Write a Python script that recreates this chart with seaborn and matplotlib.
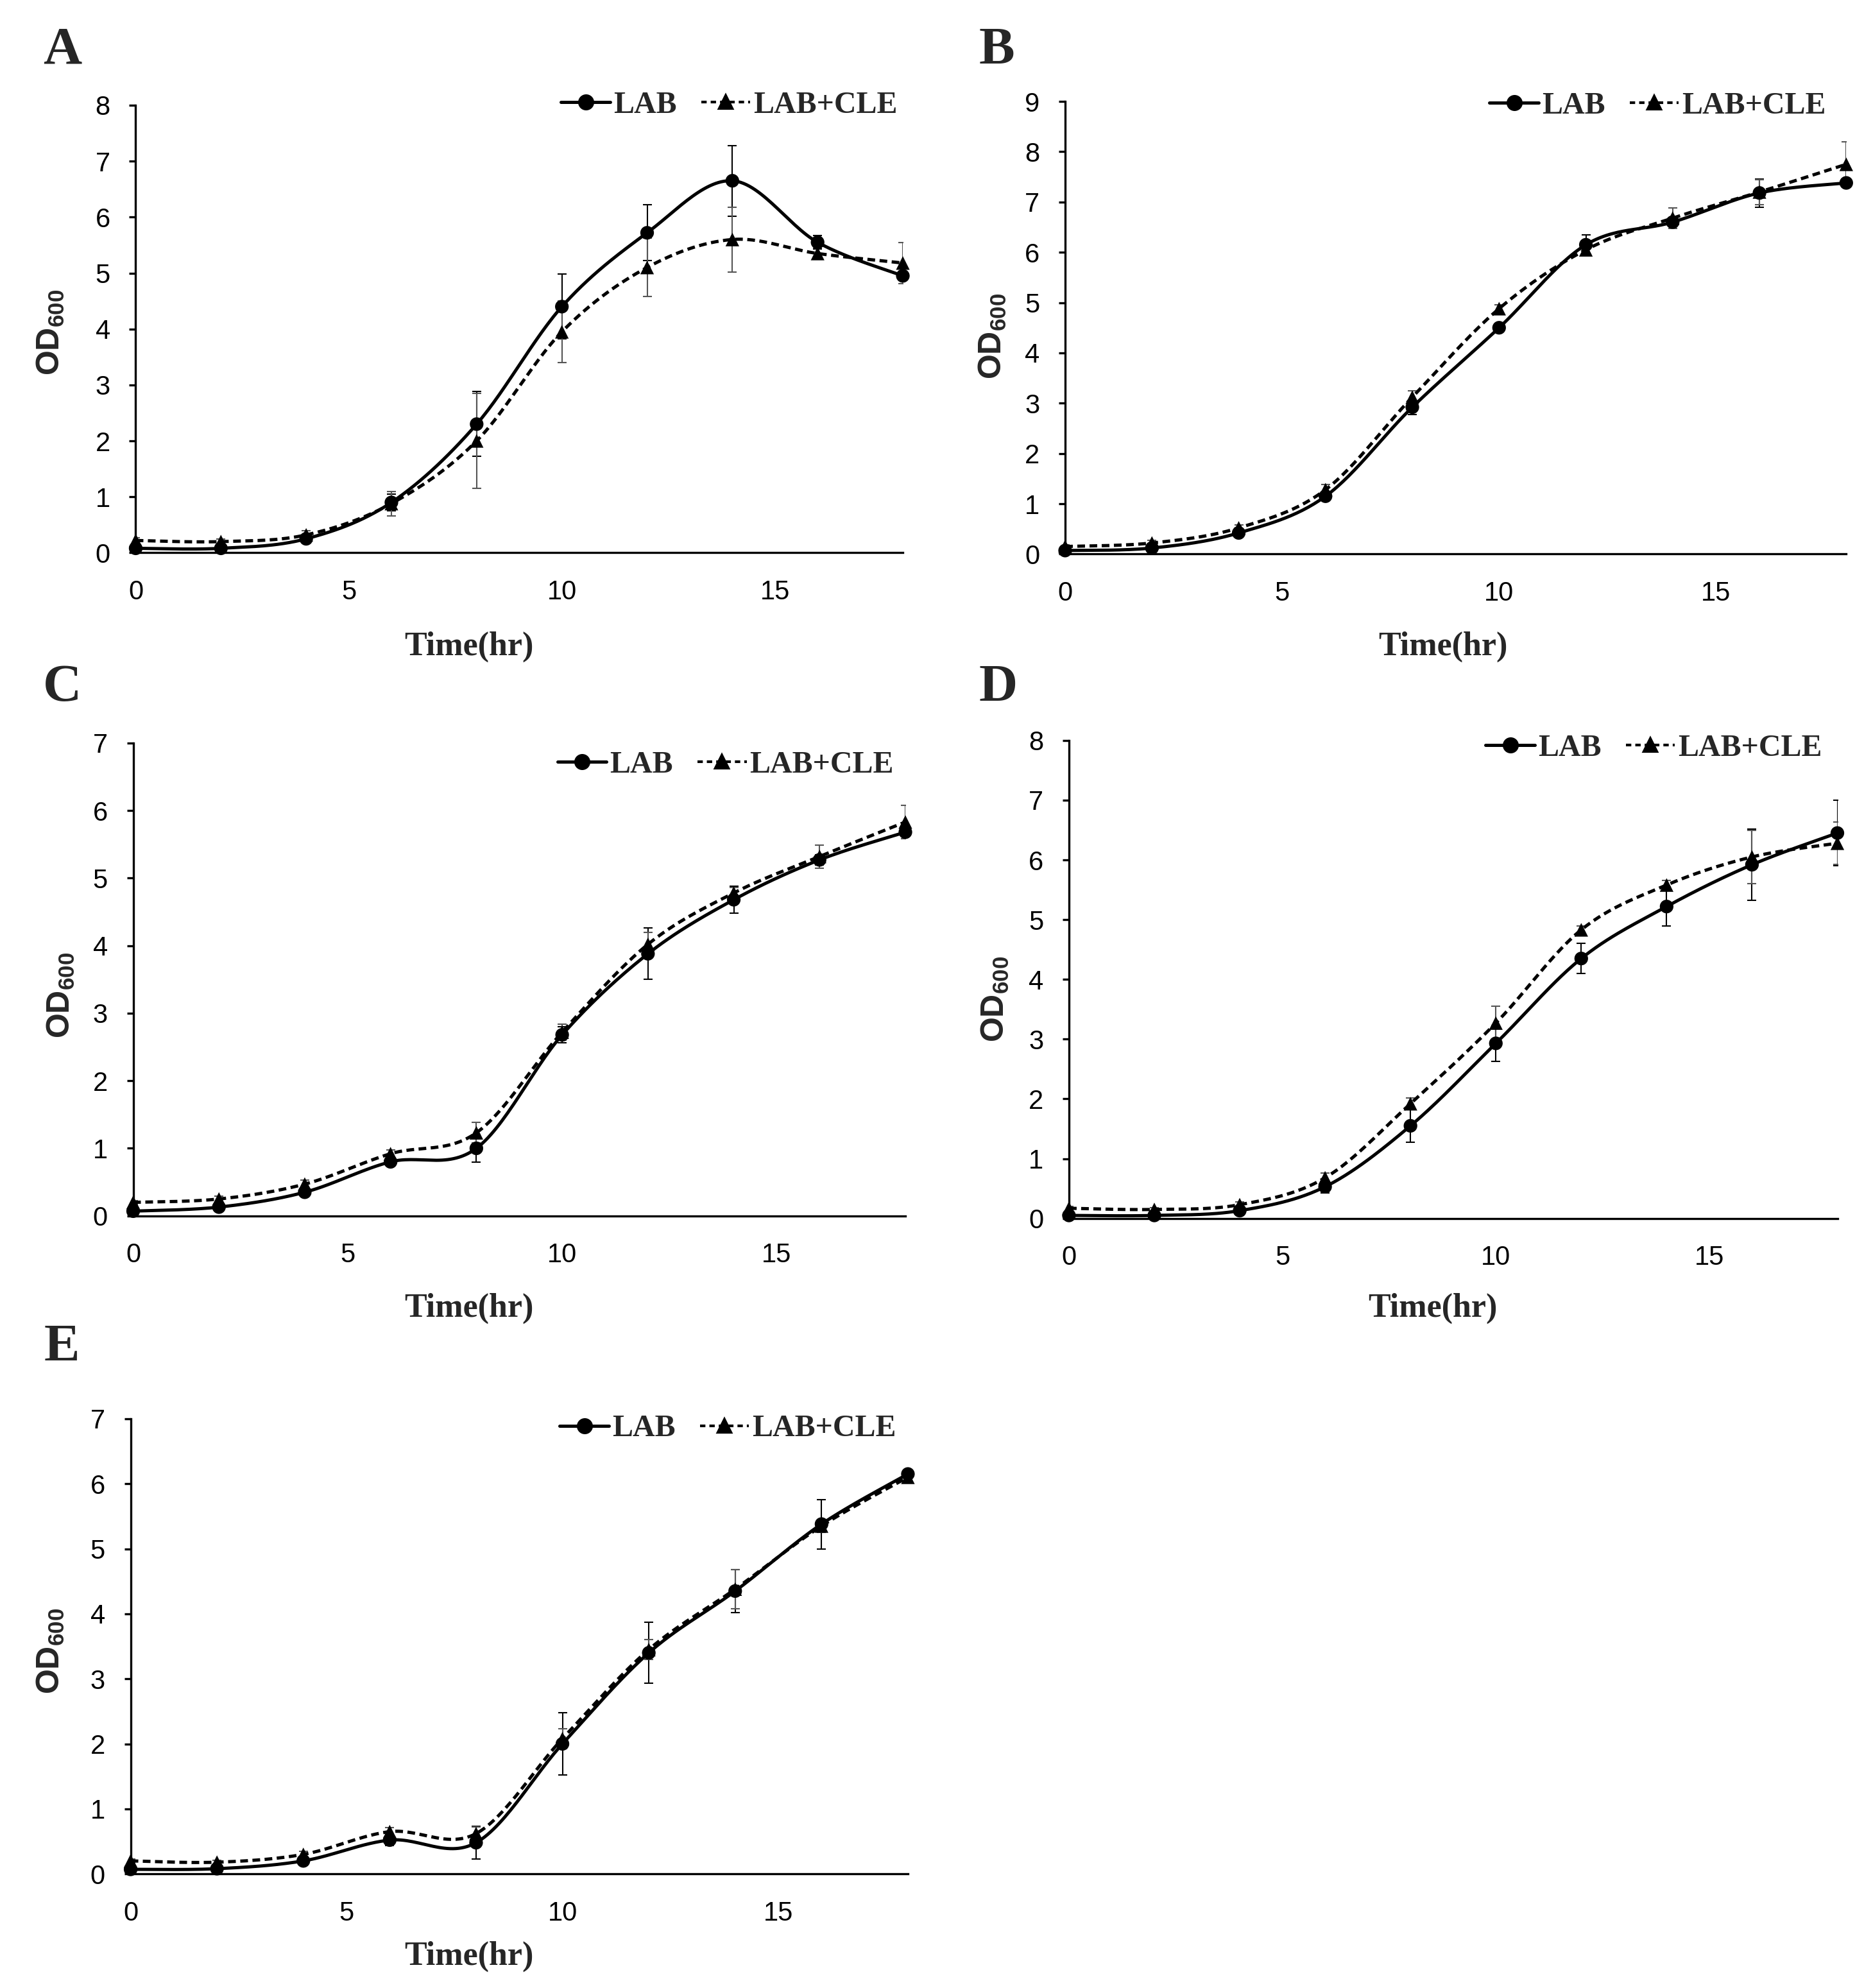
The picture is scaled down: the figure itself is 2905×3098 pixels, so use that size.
import numpy as np
import pandas as pd
import matplotlib.pyplot as plt
import seaborn as sns
from matplotlib.lines import Line2D

# Data (OD600, mean and error bar half-length)
time_hr = [0, 2, 4, 6, 8, 10, 12, 14, 16, 18]

a_lab = [0.08, 0.08, 0.25, 0.90, 2.30, 4.40, 5.72, 6.65, 5.55, 4.95]
a_lab_err = [0.05, 0.03, 0.05, 0.15, 0.58, 0.58, 0.50, 0.63, 0.12, 0.08]
a_cle = [0.22, 0.20, 0.32, 0.88, 2.00, 3.95, 5.10, 5.60, 5.35, 5.18]
a_cle_err = [0.05, 0.05, 0.08, 0.22, 0.85, 0.55, 0.52, 0.58, 0.10, 0.37]

b_lab = [0.07, 0.12, 0.42, 1.15, 2.92, 4.50, 6.15, 6.60, 7.18, 7.38]
b_lab_err = [0.03, 0.03, 0.05, 0.08, 0.15, 0.08, 0.20, 0.08, 0.28, 0.05]
b_cle = [0.15, 0.22, 0.52, 1.28, 3.12, 4.88, 6.05, 6.68, 7.20, 7.75]
b_cle_err = [0.03, 0.05, 0.06, 0.10, 0.12, 0.08, 0.10, 0.20, 0.25, 0.45]

c_lab = [0.07, 0.13, 0.35, 0.80, 1.00, 2.68, 3.88, 4.68, 5.27, 5.68]
c_lab_err = [0.03, 0.03, 0.05, 0.06, 0.20, 0.12, 0.38, 0.20, 0.08, 0.05]
c_cle = [0.20, 0.25, 0.47, 0.92, 1.23, 2.72, 4.02, 4.78, 5.32, 5.83]
c_cle_err = [0.03, 0.04, 0.06, 0.06, 0.15, 0.12, 0.18, 0.08, 0.17, 0.25]

d_lab = [0.05, 0.05, 0.13, 0.53, 1.55, 2.93, 4.35, 5.22, 5.92, 6.45]
d_lab_err = [0.03, 0.03, 0.04, 0.10, 0.28, 0.30, 0.25, 0.33, 0.60, 0.55]
d_cle = [0.17, 0.15, 0.23, 0.68, 1.92, 3.27, 4.83, 5.58, 6.05, 6.28]
d_cle_err = [0.03, 0.03, 0.05, 0.08, 0.10, 0.28, 0.06, 0.08, 0.45, 0.35]

e_lab = [0.07, 0.08, 0.20, 0.52, 0.48, 2.00, 3.40, 4.35, 5.38, 6.15]
e_lab_err = [0.03, 0.03, 0.05, 0.08, 0.25, 0.48, 0.47, 0.33, 0.38, 0.05]
e_cle = [0.20, 0.18, 0.30, 0.65, 0.62, 2.08, 3.45, 4.38, 5.35, 6.10]
e_cle_err = [0.03, 0.03, 0.05, 0.06, 0.10, 0.15, 0.15, 0.30, 0.10, 0.05]

series_names = ["LAB", "LAB+CLE"]
x_ticks = [0, 5, 10, 15]

# Layout measured on a 1470 x 1568 view of the reference
W, H = 1470, 1568


def fx(px):
    return px / W


def fy(py):
    return 1 - py / H


panels = [
    dict(letter="A", lab=a_lab, lab_err=a_lab_err, cle=a_cle, cle_err=a_cle_err, ymax=8,
         box=(107, 712, 83, 436), letter_xy=(49, 40), ylab_xy=(40, 262), xlab_xy=(370, 510),
         leg=(0.993, 1.0)),
    dict(letter="B", lab=b_lab, lab_err=b_lab_err, cle=b_cle, cle_err=b_cle_err, ymax=9,
         box=(840, 1456, 80, 437), letter_xy=(786, 40), ylab_xy=(783, 265), xlab_xy=(1138, 510),
         leg=(0.974, 0.99)),
    dict(letter="C", lab=c_lab, lab_err=c_lab_err, cle=c_cle, cle_err=c_cle_err, ymax=7,
         box=(105, 714, 586, 959), letter_xy=(49, 543), ylab_xy=(48, 785), xlab_xy=(370, 1032),
         leg=(0.985, 0.954)),
    dict(letter="D", lab=d_lab, lab_err=d_lab_err, cle=d_cle, cle_err=d_cle_err, ymax=8,
         box=(843, 1449, 584, 961), letter_xy=(787, 543), ylab_xy=(785, 788), xlab_xy=(1130, 1032),
         leg=(0.980, 0.984)),
    dict(letter="E", lab=e_lab, lab_err=e_lab_err, cle=e_cle, cle_err=e_cle_err, ymax=7,
         box=(103, 716, 1119, 1478), letter_xy=(49, 1063), ylab_xy=(40, 1302), xlab_xy=(370, 1543),
         leg=(0.985, 0.978)),
]


def excel_smooth(x, y, steps=30):
    # Bezier curve through the points, like Excel's "smoothed line"
    x = np.asarray(x, float)
    y = np.asarray(y, float)
    n = len(x)
    out_x, out_y = [], []
    for i in range(n - 1):
        x0, y0 = (x[i - 1], y[i - 1]) if i > 0 else (x[i], y[i])
        x3, y3 = (x[i + 2], y[i + 2]) if i + 2 < n else (x[i + 1], y[i + 1])
        c1x, c1y = x[i] + (x[i + 1] - x0) / 6, y[i] + (y[i + 1] - y0) / 6
        c2x, c2y = x[i + 1] - (x3 - x[i]) / 6, y[i + 1] - (y3 - y[i]) / 6
        t = np.linspace(0, 1, steps, endpoint=(i == n - 2))
        a, b, c, d = (1 - t) ** 3, 3 * (1 - t) ** 2 * t, 3 * (1 - t) * t ** 2, t ** 3
        out_x.append(a * x[i] + b * c1x + c * c2x + d * x[i + 1])
        out_y.append(a * y[i] + b * c1y + c * c2y + d * y[i + 1])
    return np.concatenate(out_x), np.concatenate(out_y)


sns.set_theme(style="white")
plt.rcParams["font.family"] = ["Liberation Sans", "DejaVu Sans"]

SERIF = ["Liberation Serif", "DejaVu Serif"]
DASH = (2.4, 1.4)

fig = plt.figure(figsize=(2905 / 300, 3098 / 300), dpi=300)
fig.patch.set_facecolor("white")

for p in panels:
    l, r, t, b = p["box"]
    ax = fig.add_axes([fx(l), fy(b), fx(r) - fx(l), fy(t) - fy(b)])
    ax.set_facecolor("white")

    # smoothed curves
    curves = []
    for name, vals in zip(series_names, [p["lab"], p["cle"]]):
        sx, sy = excel_smooth(time_hr, vals)
        curves.append(pd.DataFrame({"Time": sx, "OD": sy, "series": name}))
    df_curve = pd.concat(curves, ignore_index=True)
    sns.lineplot(data=df_curve, x="Time", y="OD", style="series", color="black",
                 dashes={"LAB": "", "LAB+CLE": DASH}, linewidth=1.2,
                 estimator=None, sort=False, legend=False, ax=ax, zorder=3)

    # error bars
    ax.errorbar(time_hr, p["lab"], yerr=p["lab_err"], fmt="none", ecolor="black",
                elinewidth=0.5, capsize=1.6, capthick=0.5, zorder=2)
    ax.errorbar(time_hr, p["cle"], yerr=p["cle_err"], fmt="none", ecolor="#555555",
                elinewidth=0.5, capsize=1.6, capthick=0.5, zorder=2)

    # markers
    df_pts = pd.DataFrame({
        "Time": time_hr * 2,
        "OD": list(p["lab"]) + list(p["cle"]),
        "series": ["LAB"] * len(time_hr) + ["LAB+CLE"] * len(time_hr),
    })
    sns.scatterplot(data=df_pts, x="Time", y="OD", style="series",
                    markers={"LAB": "o", "LAB+CLE": "^"}, color="black", s=26,
                    linewidth=0, legend=False, ax=ax, zorder=4, clip_on=False)

    ax.set_xlim(0, 18)
    ax.set_ylim(0, p["ymax"])
    ax.set_xticks(x_ticks)
    ax.set_yticks(range(0, p["ymax"] + 1))
    ax.set_xlabel("")
    ax.set_ylabel("")
    for side in ["top", "right"]:
        ax.spines[side].set_visible(False)
    for side in ["left", "bottom"]:
        ax.spines[side].set_color("black")
        ax.spines[side].set_linewidth(0.8)
    ax.tick_params(axis="y", direction="out", length=2.5, width=0.8, color="black",
                   left=True, pad=7, labelsize=10, labelcolor="black")
    ax.tick_params(axis="x", length=0, pad=10, labelsize=10, labelcolor="black")

    handles = [
        Line2D([], [], color="black", lw=1.2, marker="o", ms=5),
        Line2D([], [], color="black", lw=1.0, ls=(0, (2, 1.5)), marker="^", ms=5),
    ]
    ax.legend(handles, series_names, loc="center right", bbox_to_anchor=p["leg"],
              ncol=2, frameon=False, handlelength=1.6, handletextpad=0.1,
              columnspacing=0.8, borderaxespad=0, borderpad=0,
              prop={"family": SERIF, "weight": "bold", "size": 11.5})

    # panel letter, axis titles
    fig.text(fx(p["letter_xy"][0]), fy(p["letter_xy"][1]), p["letter"], family=SERIF,
             weight="bold", size=20, ha="center", va="center")
    fig.text(fx(p["xlab_xy"][0]), fy(p["xlab_xy"][1]), "Time(hr)", family=SERIF,
             weight="bold", size=12.5, ha="center", va="center")
    fig.text(fx(p["ylab_xy"][0]), fy(p["ylab_xy"][1]), r"OD$_{\mathregular{600}}$",
             weight="bold", size=12, rotation=90, ha="center", va="center")

plt.savefig("out.png", dpi=300, facecolor="white")
plt.close()
